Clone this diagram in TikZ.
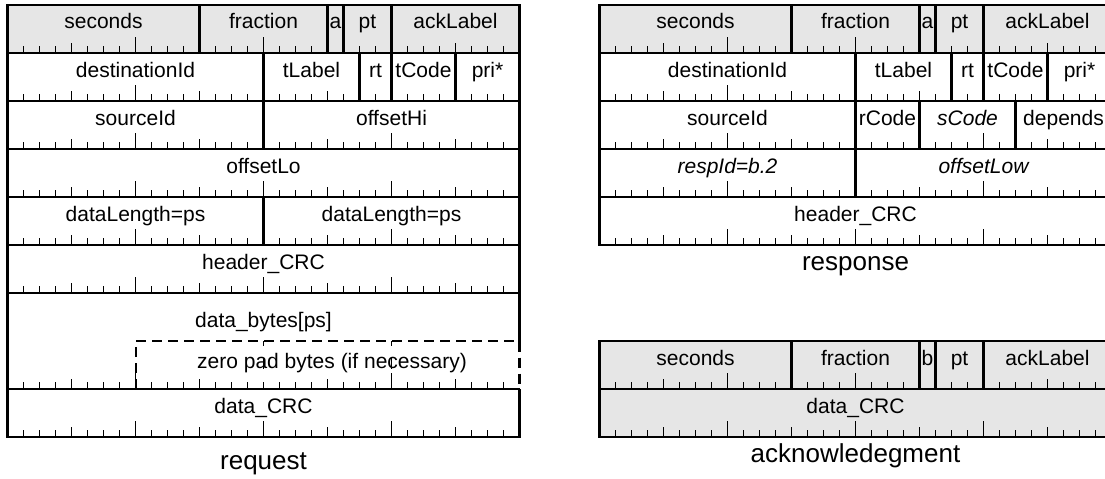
\documentclass[tikz,border=0pt]{standalone}
\usepackage{fontspec}
\setmainfont{Liberation Sans}
\definecolor{hdr}{RGB}{230,230,230}
\newcommand\tickline[2]{%
  \foreach \b in {1,...,31}{%
    \pgfmathsetmacro\L{mod(\b,8)==0 ? 16 : (mod(\b,4)==0 ? 10 : 7)}%
    \draw[tk] ({#1+16*\b},#2) -- ++(0,-\L);
  }}
\newcommand\vdiv[4]{\draw[frame] ({#1+16*#2},#3) -- ({#1+16*#2},#4);}
\newcommand\cell[6]{\node[fld] (#6) at ({#1+8*(#3+#4)},{#2+24}) {#5};}
\begin{document}
\begin{tikzpicture}[x=0.75pt,y=-0.75pt,
  frame/.style={line width=1.6pt},
  tk/.style={line width=1.1pt},
  fld/.style={font=\fontsize{15.75}{18}\selectfont, inner sep=0pt, anchor=base},
  captxt/.style={font=\fontsize{19.5}{22}\selectfont, inner sep=0pt, anchor=center}]
\useasboundingbox (0,0) rectangle (1105,478);

% ================= request (left) =================
\def\X{7.5}
\fill[hdr] (\X,5) rectangle ({\X+512},53);
\draw[frame] (\X,5) rectangle ({\X+512},437);
% dashed zero pad area
\fill[white] (136,342) rectangle (522,389);
\draw[frame, dash pattern=on 7.5pt off 4.5pt] (136,389) -- (136,341) -- ({\X+512},341) -- ({\X+512},389);
\draw[tk] ({\X+16*16},341) -- ++(0,5);
\draw[tk] ({\X+16*24},341) -- ++(0,5);
\draw[tk] ({\X+16*16},358) -- (\X+16*16,369);
\draw[tk] ({\X+16*24},358) -- (\X+16*24,369);
% ticks
\foreach \yb in {53,101,149,197,245,293,437}{\tickline{\X}{\yb}}
\foreach \b in {1,...,31}{%
  \pgfmathsetmacro\L{mod(\b,16)==0 ? 7 : (mod(\b,8)==0 ? 16 : (mod(\b,4)==0 ? 10 : 7))}%
  \draw[tk] ({\X+16*\b},389) -- ++(0,-\L);
}
% row lines
\foreach \yb in {53,101,149,197,245,293,389}{\draw[frame] (\X,\yb) -- ({\X+512},\yb);}
% dividers
\vdiv{\X}{12}{5}{53}\vdiv{\X}{20}{5}{53}\vdiv{\X}{21}{5}{53}\vdiv{\X}{24}{5}{53}
\vdiv{\X}{16}{53}{101}\vdiv{\X}{22}{53}{101}\vdiv{\X}{24}{53}{101}\vdiv{\X}{28}{53}{101}
\vdiv{\X}{16}{101}{149}
\vdiv{\X}{16}{197}{245}
% texts
\cell{\X}{5}{0}{12}{seconds}{q-sec}
\cell{\X}{5}{12}{20}{fraction}{q-frac}
\cell{\X}{5}{20}{21}{a}{q-a}
\cell{\X}{5}{21}{24}{pt}{q-pt}
\cell{\X}{5}{24}{32}{ackLabel}{q-ack}
\cell{\X}{53}{0}{16}{destinationId}{q-dest}
\cell{\X}{53}{16}{22}{tLabel}{q-tl}
\cell{\X}{53}{22}{24}{rt}{q-rt}
\cell{\X}{53}{24}{28}{tCode}{q-tc}
\cell{\X}{53}{28}{32}{pri*}{q-pri}
\cell{\X}{101}{0}{16}{sourceId}{q-src}
\cell{\X}{101}{16}{32}{offsetHi}{q-ohi}
\cell{\X}{149}{0}{32}{offsetLo}{q-olo}
\cell{\X}{197}{0}{16}{dataLength=ps}{q-dl1}
\cell{\X}{197}{16}{32}{dataLength=ps}{q-dl2}
\cell{\X}{245}{0}{32}{header\_CRC}{q-hcrc}
\node[fld] (q-data) at ({\X+256},327) {data\_bytes[ps]};
\node[fld] (q-pad) at (332,368) {zero pad bytes (if necessary)};
\cell{\X}{389}{0}{32}{data\_CRC}{q-dcrc}
\node[captxt] (q-cap) at ({\X+256},464) {request};

% ================= response (right top) =================
\def\X{599.5}
\fill[hdr] (\X,5) rectangle ({\X+512},53);
\draw[frame] (\X,5) rectangle ({\X+512},245);
\foreach \yb in {53,101,149,197,245}{\tickline{\X}{\yb}}
\foreach \yb in {53,101,149,197}{\draw[frame] (\X,\yb) -- ({\X+512},\yb);}
\vdiv{\X}{12}{5}{53}\vdiv{\X}{20}{5}{53}\vdiv{\X}{21}{5}{53}\vdiv{\X}{24}{5}{53}
\vdiv{\X}{16}{53}{101}\vdiv{\X}{22}{53}{101}\vdiv{\X}{24}{53}{101}\vdiv{\X}{28}{53}{101}
\vdiv{\X}{16}{101}{149}\vdiv{\X}{20}{101}{149}\vdiv{\X}{26}{101}{149}
\vdiv{\X}{16}{149}{197}
\cell{\X}{5}{0}{12}{seconds}{r-sec}
\cell{\X}{5}{12}{20}{fraction}{r-frac}
\cell{\X}{5}{20}{21}{a}{r-a}
\cell{\X}{5}{21}{24}{pt}{r-pt}
\cell{\X}{5}{24}{32}{ackLabel}{r-ack}
\cell{\X}{53}{0}{16}{destinationId}{r-dest}
\cell{\X}{53}{16}{22}{tLabel}{r-tl}
\cell{\X}{53}{22}{24}{rt}{r-rt}
\cell{\X}{53}{24}{28}{tCode}{r-tc}
\cell{\X}{53}{28}{32}{pri*}{r-pri}
\cell{\X}{101}{0}{16}{sourceId}{r-src}
\cell{\X}{101}{16}{20}{rCode}{r-rc}
\cell{\X}{101}{20}{26}{\itshape sCode}{r-sc}
\cell{\X}{101}{26}{32}{depends}{r-dep}
\cell{\X}{149}{0}{16}{\itshape respId=b.2}{r-resp}
\cell{\X}{149}{16}{32}{\itshape offsetLow}{r-olow}
\cell{\X}{197}{0}{32}{header\_CRC}{r-hcrc}
\node[captxt] (r-cap) at ({\X+256},266) {response};

% ================= acknowledgment (right bottom) =================
\fill[hdr] (\X,341) rectangle ({\X+512},437);
\draw[frame] (\X,341) rectangle ({\X+512},437);
\foreach \yb in {389,437}{\tickline{\X}{\yb}}
\draw[frame] (\X,389) -- ({\X+512},389);
\vdiv{\X}{12}{341}{389}\vdiv{\X}{20}{341}{389}\vdiv{\X}{21}{341}{389}\vdiv{\X}{24}{341}{389}
\cell{\X}{341}{0}{12}{seconds}{k-sec}
\cell{\X}{341}{12}{20}{fraction}{k-frac}
\cell{\X}{341}{20}{21}{b}{k-b}
\cell{\X}{341}{21}{24}{pt}{k-pt}
\cell{\X}{341}{24}{32}{ackLabel}{k-ack}
\cell{\X}{389}{0}{32}{data\_CRC}{k-dcrc}
\node[captxt] (k-cap) at ({\X+256},456) {acknowledegment};
\end{tikzpicture}
\end{document}
